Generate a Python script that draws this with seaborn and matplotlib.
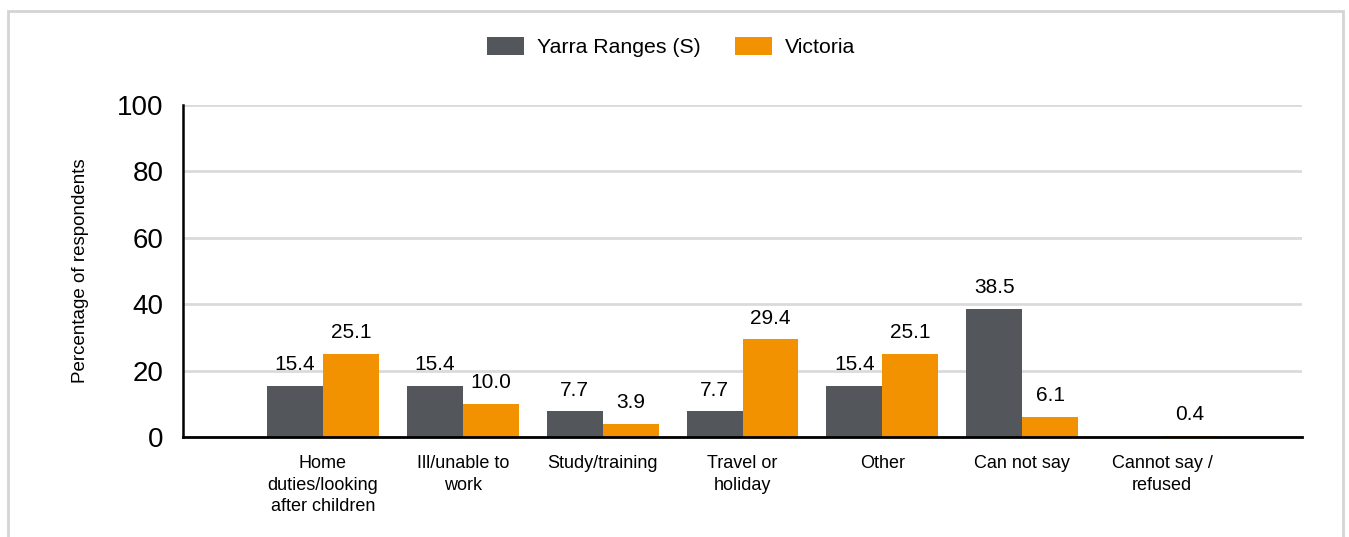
import matplotlib
matplotlib.use('Agg')
import matplotlib.pyplot as plt
import seaborn as sns
import pandas as pd
import numpy as np
from matplotlib.patches import Rectangle

categories = ["Home\nduties/looking\nafter children", "Ill/unable to\nwork", "Study/training",
              "Travel or\nholiday", "Other", "Can not say", "Cannot say /\nrefused"]
yarra = [15.4, 15.4, 7.7, 7.7, 15.4, 38.5, np.nan]
victoria = [25.1, 10.0, 3.9, 29.4, 25.1, 6.1, 0.4]
series_names = ["Yarra Ranges (S)", "Victoria"]
colors = ["#53565A", "#F39200"]
yticks = [0, 20, 40, 60, 80, 100]

sns.set_style('white')
plt.rcParams['font.family'] = ['Liberation Sans', 'DejaVu Sans']

df = pd.DataFrame({
    'category': categories * 2,
    'value': yarra + victoria,
    'area': [series_names[0]] * len(categories) + [series_names[1]] * len(categories),
})

fig = plt.figure(figsize=(13.49, 5.37), dpi=100)
ax = fig.add_axes([183 / 1349, 1 - 437 / 537, (1302 - 183) / 1349, (437 - 105) / 537])

sns.barplot(data=df, x='category', y='value', hue='area', palette=colors,
            width=0.8, saturation=1, linewidth=0, ax=ax, legend=True)

# value labels above bars (skip missing ones)
for cont, vals in zip(ax.containers, [yarra, victoria]):
    for bar, v in zip(cont, vals):
        if bar is None or np.isnan(v):
            continue
        ax.annotate(f'{v:.1f}', (bar.get_x() + bar.get_width() / 2, bar.get_height()),
                    xytext=(0, 8.5), textcoords='offset points', ha='center', va='bottom',
                    fontsize=15, color='black')

ax.set_ylim(0, 100)
ax.set_yticks(yticks)
ax.set_xlim(-1, len(categories))
ax.set_xticks(range(-1, len(categories) + 1))
ax.set_xticklabels([''] + categories + [''], fontsize=13, linespacing=1.35)
ax.tick_params(axis='y', labelsize=20, length=8, width=1, color='#999999', pad=6,
               labelcolor='black')
ax.tick_params(axis='x', length=5, width=1, color='#999999', pad=8, labelcolor='black')
ax.set_xlabel('')
ax.set_ylabel('Percentage of respondents', fontsize=13.5, labelpad=20, color='black')

ax.yaxis.grid(True, color='#DADADA', linewidth=2)
ax.set_axisbelow(True)
for s in ['top', 'right']:
    ax.spines[s].set_visible(False)
ax.spines['left'].set_color('black')
ax.spines['left'].set_linewidth(1.8)
ax.spines['bottom'].set_color('black')
ax.spines['bottom'].set_linewidth(2)
ax.spines['bottom'].set_zorder(5)

handles, labels = ax.get_legend_handles_labels()
ax.get_legend().remove()
fig.legend(handles, labels, loc='center', bbox_to_anchor=(671 / 1349, 1 - 47 / 537),
           ncol=2, frameon=False, fontsize=15.3, handlelength=1.75, handleheight=0.95,
           handletextpad=0.6, columnspacing=1.6, labelcolor='black')

# outer light grey frame
fig.patches.append(Rectangle((8 / 1349, -0.05), (1343 - 8) / 1349, 1.05 - 11 / 537,
                             transform=fig.transFigure, fill=False,
                             edgecolor='#D4D4D4', linewidth=2))

fig.savefig('out.png', dpi=100)
